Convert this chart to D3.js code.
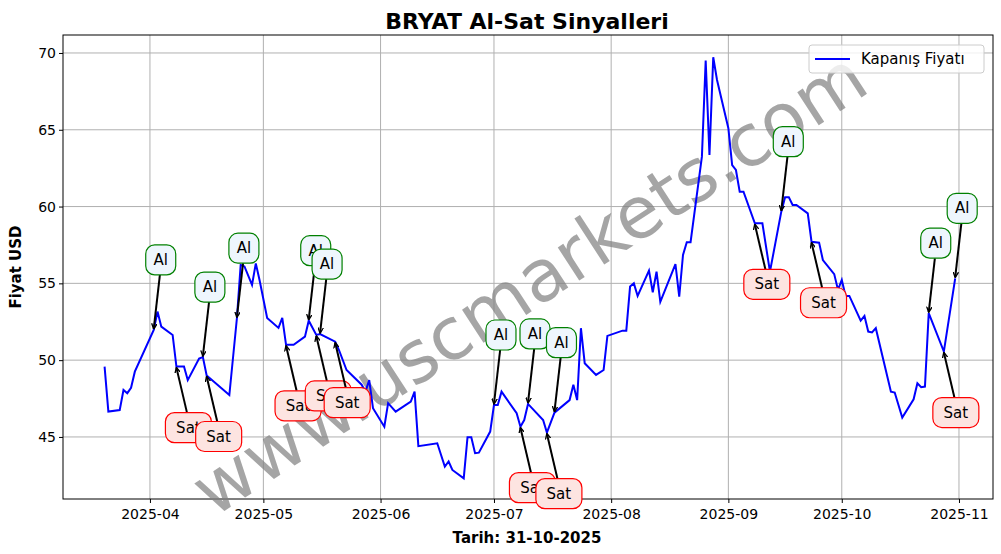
<!DOCTYPE html>
<html><head><meta charset="utf-8">
<script src="https://cdn.jsdelivr.net/npm/d3@7"></script>
<style>body{margin:0;background:#fff;font-family:"DejaVu Sans",sans-serif;}</style>
</head><body><svg id="chart" width="1001" height="554"></svg>
<script>
// closing prices
var dates = ["2025-03-20","2025-03-21","2025-03-24","2025-03-25","2025-03-26","2025-03-27","2025-03-28","2025-04-02","2025-04-03","2025-04-04",
"2025-04-07","2025-04-08","2025-04-10","2025-04-11","2025-04-14","2025-04-15","2025-04-16","2025-04-22","2025-04-24","2025-04-25",
"2025-04-26","2025-04-28","2025-04-29","2025-04-30","2025-05-02","2025-05-05","2025-05-06","2025-05-07","2025-05-09","2025-05-12",
"2025-05-13","2025-05-15","2025-05-16","2025-05-20","2025-05-21","2025-05-23","2025-05-27","2025-05-28","2025-05-29","2025-05-30",
"2025-06-02","2025-06-03","2025-06-05","2025-06-09","2025-06-10","2025-06-11","2025-06-16","2025-06-18","2025-06-19","2025-06-20",
"2025-06-23","2025-06-24","2025-06-25","2025-06-26","2025-06-27","2025-06-30","2025-07-01","2025-07-02","2025-07-03","2025-07-07",
"2025-07-08","2025-07-09","2025-07-10","2025-07-14","2025-07-15","2025-07-17","2025-07-21","2025-07-22","2025-07-23","2025-07-24",
"2025-07-25","2025-07-28","2025-07-30","2025-07-31","2025-08-04","2025-08-05","2025-08-06","2025-08-07","2025-08-08","2025-08-11",
"2025-08-12","2025-08-13","2025-08-14","2025-08-18","2025-08-19","2025-08-20","2025-08-21","2025-08-22","2025-08-25","2025-08-26",
"2025-08-27","2025-08-28","2025-08-29","2025-09-01","2025-09-02","2025-09-03","2025-09-04","2025-09-05","2025-09-08","2025-09-10",
"2025-09-12","2025-09-15","2025-09-16","2025-09-17","2025-09-18","2025-09-19","2025-09-22","2025-09-23","2025-09-25","2025-09-26",
"2025-09-29","2025-09-30","2025-10-01","2025-10-02","2025-10-03","2025-10-06","2025-10-07","2025-10-08","2025-10-09","2025-10-10",
"2025-10-14","2025-10-15","2025-10-17","2025-10-20","2025-10-21","2025-10-22","2025-10-23","2025-10-24","2025-10-28","2025-10-31"];
var prices = [49.58,46.65,46.75,48.06,47.85,48.2,49.25,51.97,53.16,52.18,
51.64,49.58,49.58,48.7,50.1,50.2,49.0,47.73,52.73,56.2,
56.1,54.9,56.3,55.2,52.75,52.1,52.75,51.0,51.0,51.53,
52.57,51.64,51.7,51.2,50.66,49.36,48.4,47.95,48.7,46.87,
45.67,47.2,46.65,47.3,47.95,44.4,44.59,43.07,43.4,42.85,
42.3,44.98,44.98,43.94,43.98,45.35,47.08,47.08,47.95,46.54,
45.67,46.1,47.15,46.1,45.28,46.58,47.4,48.4,47.4,52.08,
49.8,49.04,49.36,51.58,51.92,51.92,54.79,55.0,54.18,55.83,
54.42,55.76,53.8,56.26,54.13,56.85,57.68,57.68,63.25,69.5,
63.36,69.72,68.24,65.1,62.7,62.38,60.97,60.97,58.91,58.91,
55.76,59.67,60.6,60.6,60.1,60.1,59.56,57.71,57.65,56.52,
55.6,54.57,55.22,54.18,54.18,52.57,52.88,51.86,51.8,52.08,
47.95,47.89,46.26,47.45,48.5,48.24,48.28,53.06,50.56,55.33];
var buyDates = ["2025-04-02","2025-04-15","2025-04-24","2025-05-13","2025-05-16","2025-07-01","2025-07-10","2025-07-17","2025-09-15","2025-10-24","2025-10-31"];
var sellDates = ["2025-04-08","2025-04-16","2025-05-07","2025-05-15","2025-05-20","2025-07-08","2025-07-15","2025-09-08","2025-09-23","2025-10-28"];
var yTicks = [45,50,55,60,65,70];
var xTickDates = ["2025-04-01","2025-05-01","2025-06-01","2025-07-01","2025-08-01","2025-09-01","2025-10-01","2025-11-01"];

var parse = d3.timeParse("%Y-%m-%d");
var data = dates.map(function(d,i){ return {date: parse(d), price: prices[i]}; });
var byDate = {};
data.forEach(function(d,i){ byDate[dates[i]] = d; });

var svg = d3.select("#chart");
var m = {top: 35, right: 8, bottom: 55, left: 63};
var W = 1001, H = 554;
var x = d3.scaleTime().domain([parse("2025-03-09"), parse("2025-11-10")]).range([m.left, W - m.right]);
var y = d3.scaleLinear().domain([40.96, 71.17]).range([H - m.bottom, m.top]);

// grid
var g = svg.append("g");
g.selectAll(".vg").data(xTickDates).enter().append("line")
  .attr("x1", function(d){ return x(parse(d)); }).attr("x2", function(d){ return x(parse(d)); })
  .attr("y1", m.top).attr("y2", H - m.bottom).attr("stroke", "#b0b0b0").attr("stroke-width", 1);
g.selectAll(".hg").data(yTicks).enter().append("line")
  .attr("x1", m.left).attr("x2", W - m.right)
  .attr("y1", function(d){ return y(d); }).attr("y2", function(d){ return y(d); })
  .attr("stroke", "#b0b0b0").attr("stroke-width", 1);

// axes
var xAxis = d3.axisBottom(x).tickValues(xTickDates.map(parse)).tickFormat(d3.timeFormat("%Y-%m")).tickSizeOuter(0).tickSize(4);
var yAxis = d3.axisLeft(y).tickValues(yTicks).tickSizeOuter(0).tickSize(4);
svg.append("g").attr("transform", "translate(0," + (H - m.bottom) + ")").call(xAxis)
  .call(function(s){ s.selectAll("text").attr("font-size", 14).attr("font-family", "DejaVu Sans").attr("fill", "#000").attr("dy", "0.95em"); s.select(".domain").remove(); });
svg.append("g").attr("transform", "translate(" + m.left + ",0)").call(yAxis)
  .call(function(s){ s.selectAll("text").attr("font-size", 14).attr("font-family", "DejaVu Sans").attr("fill", "#000"); s.select(".domain").remove(); });
svg.append("rect").attr("x", m.left).attr("y", m.top).attr("width", W - m.left - m.right).attr("height", H - m.top - m.bottom)
  .attr("fill", "none").attr("stroke", "#000").attr("stroke-width", 1);

// watermark
svg.append("text").attr("transform", "translate(532,288) rotate(-33)").attr("text-anchor", "middle").attr("dominant-baseline", "middle")
  .attr("font-size", 72).attr("fill", "#808080").attr("opacity", 0.7).text("www.uscmarkets.com");

// price line
svg.append("path").datum(data).attr("fill", "none").attr("stroke", "#0000ff").attr("stroke-width", 2)
  .attr("d", d3.line().x(function(d){ return x(d.date); }).y(function(d){ return y(d.price); }));

var defs = svg.append("defs");
defs.append("marker").attr("id", "ah").attr("viewBox", "0 0 10 10").attr("refX", 9).attr("refY", 5)
  .attr("markerWidth", 6).attr("markerHeight", 6).attr("markerUnits", "userSpaceOnUse").attr("orient", "auto")
  .append("path").attr("d", "M0,0.5 L9.5,5 L0,9.5").attr("fill", "none").attr("stroke", "#000").attr("stroke-width", 2.2);

function annotate(list, label, dx, dy, stroke, fill, boxW){
  list.forEach(function(ds){
    var p = byDate[ds], px = x(p.date), py = y(p.price);
    var tx = px + dx, ty = py + dy;
    svg.append("line").attr("x1", tx - (dx * 0.12)).attr("y1", ty + (dy < 0 ? 15 : -15))
      .attr("x2", px).attr("y2", py + (dy < 0 ? -1 : 1)).attr("stroke", "#000").attr("stroke-width", 2).attr("marker-end", "url(#ah)");
    svg.append("rect").attr("x", tx - boxW / 2).attr("y", ty - 15).attr("width", boxW).attr("height", 30)
      .attr("rx", 9).attr("fill", fill).attr("stroke", stroke).attr("stroke-width", 1.2);
    svg.append("text").attr("x", tx).attr("y", ty + 5).attr("text-anchor", "middle").attr("font-size", 15).attr("fill", "#000").text(label);
  });
}
annotate(sellDates, "Sat", 12, 61, "#ff0000", "#fde4e1", 46);
annotate(buyDates, "Al", 7, -70, "#008000", "#eef6fd", 30);

// title and labels
svg.append("text").attr("x", 527).attr("y", 29).attr("text-anchor", "middle").attr("font-size", 22).attr("font-weight", "bold").text("BRYAT Al-Sat Sinyalleri");
svg.append("text").attr("x", 527).attr("y", 543).attr("text-anchor", "middle").attr("font-size", 15).attr("font-weight", "bold").text("Tarih: 31-10-2025");
svg.append("text").attr("transform", "translate(21,267) rotate(-90)").attr("text-anchor", "middle").attr("font-size", 15).attr("font-weight", "bold").text("Fiyat USD");

// legend
var lg = svg.append("g").attr("transform", "translate(809,45)");
lg.append("rect").attr("width", 175).attr("height", 28).attr("rx", 3).attr("fill", "#fff").attr("fill-opacity", 0.8).attr("stroke", "#ccc");
lg.append("line").attr("x1", 6).attr("x2", 41).attr("y1", 14).attr("y2", 14).attr("stroke", "#0000ff").attr("stroke-width", 2);
lg.append("text").attr("x", 52).attr("y", 19).attr("font-size", 15).text("Kapanış Fiyatı");
</script></body></html>
